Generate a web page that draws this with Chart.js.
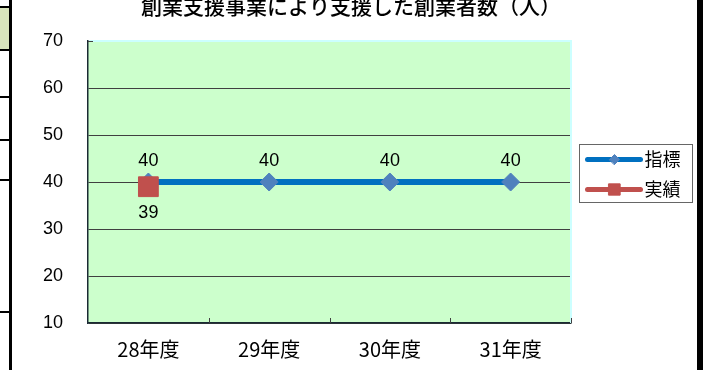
<!DOCTYPE html>
<html lang="ja">
<head>
<meta charset="utf-8">
<title>創業者数</title>
<script src="https://cdn.jsdelivr.net/npm/chart.js@4.4.1/dist/chart.umd.min.js"></script>
<style>
html, body { margin: 0; padding: 0; background: #fff; }
#wrap { position: relative; width: 703px; height: 374px; overflow: hidden; }
#wrap canvas { position: absolute; left: 0; top: 0; }
/* sheet cell edges around the chart object */
.bar-l { position: absolute; left: 9px; top: 0; width: 3px; height: 370px; background: #000; }
.bar-r { position: absolute; left: 697px; top: 0; width: 6px; height: 370px; background: #000; }
.cell { position: absolute; left: 0; top: 6px; width: 9px; height: 41px; background: #d8e4bc; border-top: 2px solid #000; border-bottom: 2px solid #000; }
.rule { position: absolute; left: 0; width: 9px; height: 2px; background: #000; }
</style>
</head>
<body>
<div id="wrap">
    <canvas id="founderChart" width="703" height="374"></canvas>
    <div class="cell"></div>
    <div class="rule" style="top:96px"></div>
    <div class="rule" style="top:139px"></div>
    <div class="rule" style="top:179px"></div>
    <div class="rule" style="top:311px"></div>
    <div class="bar-l"></div>
    <div class="bar-r"></div>
</div>
<script>
var years = ['28年度', '29年度', '30年度', '31年度'];
var targetValues = [40, 40, 40, 40];   // 指標
var actualValues = [39, null, null, null]; // 実績
var yTicks = [10, 20, 30, 40, 50, 60, 70];

var chartTitle = '創業支援事業により支援した創業者数（人）';
var numFont = "'Liberation Sans', 'Noto Sans CJK JP', sans-serif";
var jpFont = "'Noto Sans CJK JP', sans-serif";

// plot background, light top/right edge and the small inward x ticks
var plotFrame = {
    id: 'plotFrame',
    beforeDraw: function (chart) {
        var a = chart.chartArea, ctx = chart.ctx;
        ctx.save();
        ctx.fillStyle = '#ccffcc';
        ctx.fillRect(a.left, a.top, a.right - a.left, a.bottom - a.top);
        ctx.restore();
    },
    beforeDatasetsDraw: function (chart) {
        var a = chart.chartArea, ctx = chart.ctx;
        var xs = chart.scales.x;
        ctx.save();
        ctx.strokeStyle = '#ccffff';
        ctx.lineWidth = 2;
        ctx.beginPath();
        ctx.moveTo(a.left + 1, a.top);
        ctx.lineTo(a.right, a.top);
        ctx.lineTo(a.right, a.bottom);
        ctx.stroke();

        ctx.strokeStyle = '#404040';
        ctx.lineWidth = 1;
        ctx.beginPath();
        for (var i = 1; i <= years.length; i++) {
            var x = i < years.length
                ? (xs.getPixelForValue(i - 1) + xs.getPixelForValue(i)) / 2
                : a.right;
            x = Math.round(x) + 0.5;
            ctx.moveTo(x, a.bottom);
            ctx.lineTo(x, a.bottom - 5);
        }
        // tick at the top of the value axis
        ctx.moveTo(a.left, Math.round(a.top) + 0.5);
        ctx.lineTo(a.left + 5, Math.round(a.top) + 0.5);
        ctx.stroke();
        ctx.restore();
    }
};

// numbers next to each point
var valueLabels = {
    id: 'valueLabels',
    afterDatasetsDraw: function (chart) {
        var ctx = chart.ctx;
        ctx.save();
        ctx.font = '18px ' + numFont;
        ctx.fillStyle = '#000';
        ctx.textAlign = 'center';
        ctx.textBaseline = 'middle';
        chart.data.datasets.forEach(function (ds, i) {
            var meta = chart.getDatasetMeta(i);
            meta.data.forEach(function (pt, j) {
                var v = ds.data[j];
                if (v === null || v === undefined) return;
                var dy = ds.labelPos === 'below' ? 26 : -21;
                ctx.fillText(String(v), pt.x, pt.y + dy);
            });
        });
        ctx.restore();
    }
};

// title and boxed legend on the right
var chrome = {
    id: 'chrome',
    afterDraw: function (chart) {
        var ctx = chart.ctx, a = chart.chartArea;
        ctx.save();
        ctx.font = '500 21px ' + jpFont;
        ctx.fillStyle = '#000';
        ctx.textAlign = 'center';
        ctx.textBaseline = 'alphabetic';
        ctx.fillText(chartTitle, 351, 14);

        var bx = a.right + 8.5, by = 144.5, bw = 113, bh = 58;
        ctx.strokeStyle = '#666';
        ctx.lineWidth = 1;
        ctx.strokeRect(bx, by, bw, bh);

        chart.data.datasets.forEach(function (ds, i) {
            var y = 159.5 + i * 30;
            ctx.strokeStyle = ds.borderColor;
            ctx.lineWidth = 5;
            ctx.lineCap = 'round';
            ctx.beginPath();
            ctx.moveTo(bx + 8, y);
            ctx.lineTo(bx + 61, y);
            ctx.stroke();
            // marker stroke must not inherit the thick line width
            ctx.lineWidth = 1;
            ctx.fillStyle = ds.pointBackgroundColor;
            ctx.strokeStyle = ds.pointBorderColor;
            Chart.helpers.drawPoint(ctx, {
                pointStyle: ds.pointStyle,
                radius: ds.legendRadius,
                rotation: 0,
                borderWidth: 1
            }, bx + 35, y);
            ctx.fillStyle = '#000';
            ctx.font = '18px ' + jpFont;
            ctx.textAlign = 'left';
            ctx.textBaseline = 'middle';
            ctx.fillText(ds.label, bx + 65, y);
        });
        ctx.restore();
    }
};

new Chart(document.getElementById('founderChart'), {
    type: 'line',
    data: {
        labels: years,
        datasets: [
            {
                label: '指標',
                data: targetValues,
                order: 1,
                borderColor: '#0070c0',
                borderWidth: 6,
                pointStyle: 'rectRot',
                pointRadius: 9,
                legendRadius: 5,
                pointBackgroundColor: '#4f81bd',
                pointBorderColor: '#4f81bd',
                pointBorderWidth: 1,
                labelPos: 'above',
                tension: 0
            },
            {
                label: '実績',
                data: actualValues,
                order: 0,
                borderColor: '#c0504d',
                borderWidth: 6,
                pointStyle: 'rect',
                pointRadius: 14,
                legendRadius: 8,
                pointBackgroundColor: '#c0504d',
                pointBorderColor: '#c0504d',
                pointBorderWidth: 1,
                labelPos: 'below',
                tension: 0
            }
        ]
    },
    options: {
        responsive: false,
        animation: false,
        layout: { padding: { top: 41, right: 132, left: 0, bottom: 0 } },
        plugins: {
            legend: { display: false },
            tooltip: { enabled: false },
            title: { display: false }
        },
        scales: {
            x: {
                offset: true,
                grid: { display: false, drawTicks: false },
                border: { display: true, color: '#1a2a33', width: 1.5 },
                ticks: {
                    color: '#000',
                    padding: 14,
                    font: { family: jpFont, size: 20 }
                },
                afterFit: function (scale) { scale.height = 51; }
            },
            y: {
                min: yTicks[0],
                max: yTicks[yTicks.length - 1],
                grid: {
                    drawTicks: false,
                    color: function (c) {
                        return c.tick && c.tick.value === yTicks[yTicks.length - 1] ? 'rgba(0,0,0,0)' : '#404040';
                    }
                },
                border: { display: true, color: '#1a2a33', width: 1.5 },
                ticks: {
                    stepSize: 10,
                    color: '#000',
                    padding: 25,
                    font: { family: numFont, size: 18 }
                },
                afterFit: function (scale) { scale.width = 88; }
            }
        }
    },
    plugins: [plotFrame, valueLabels, chrome]
});
</script>
</body>
</html>
